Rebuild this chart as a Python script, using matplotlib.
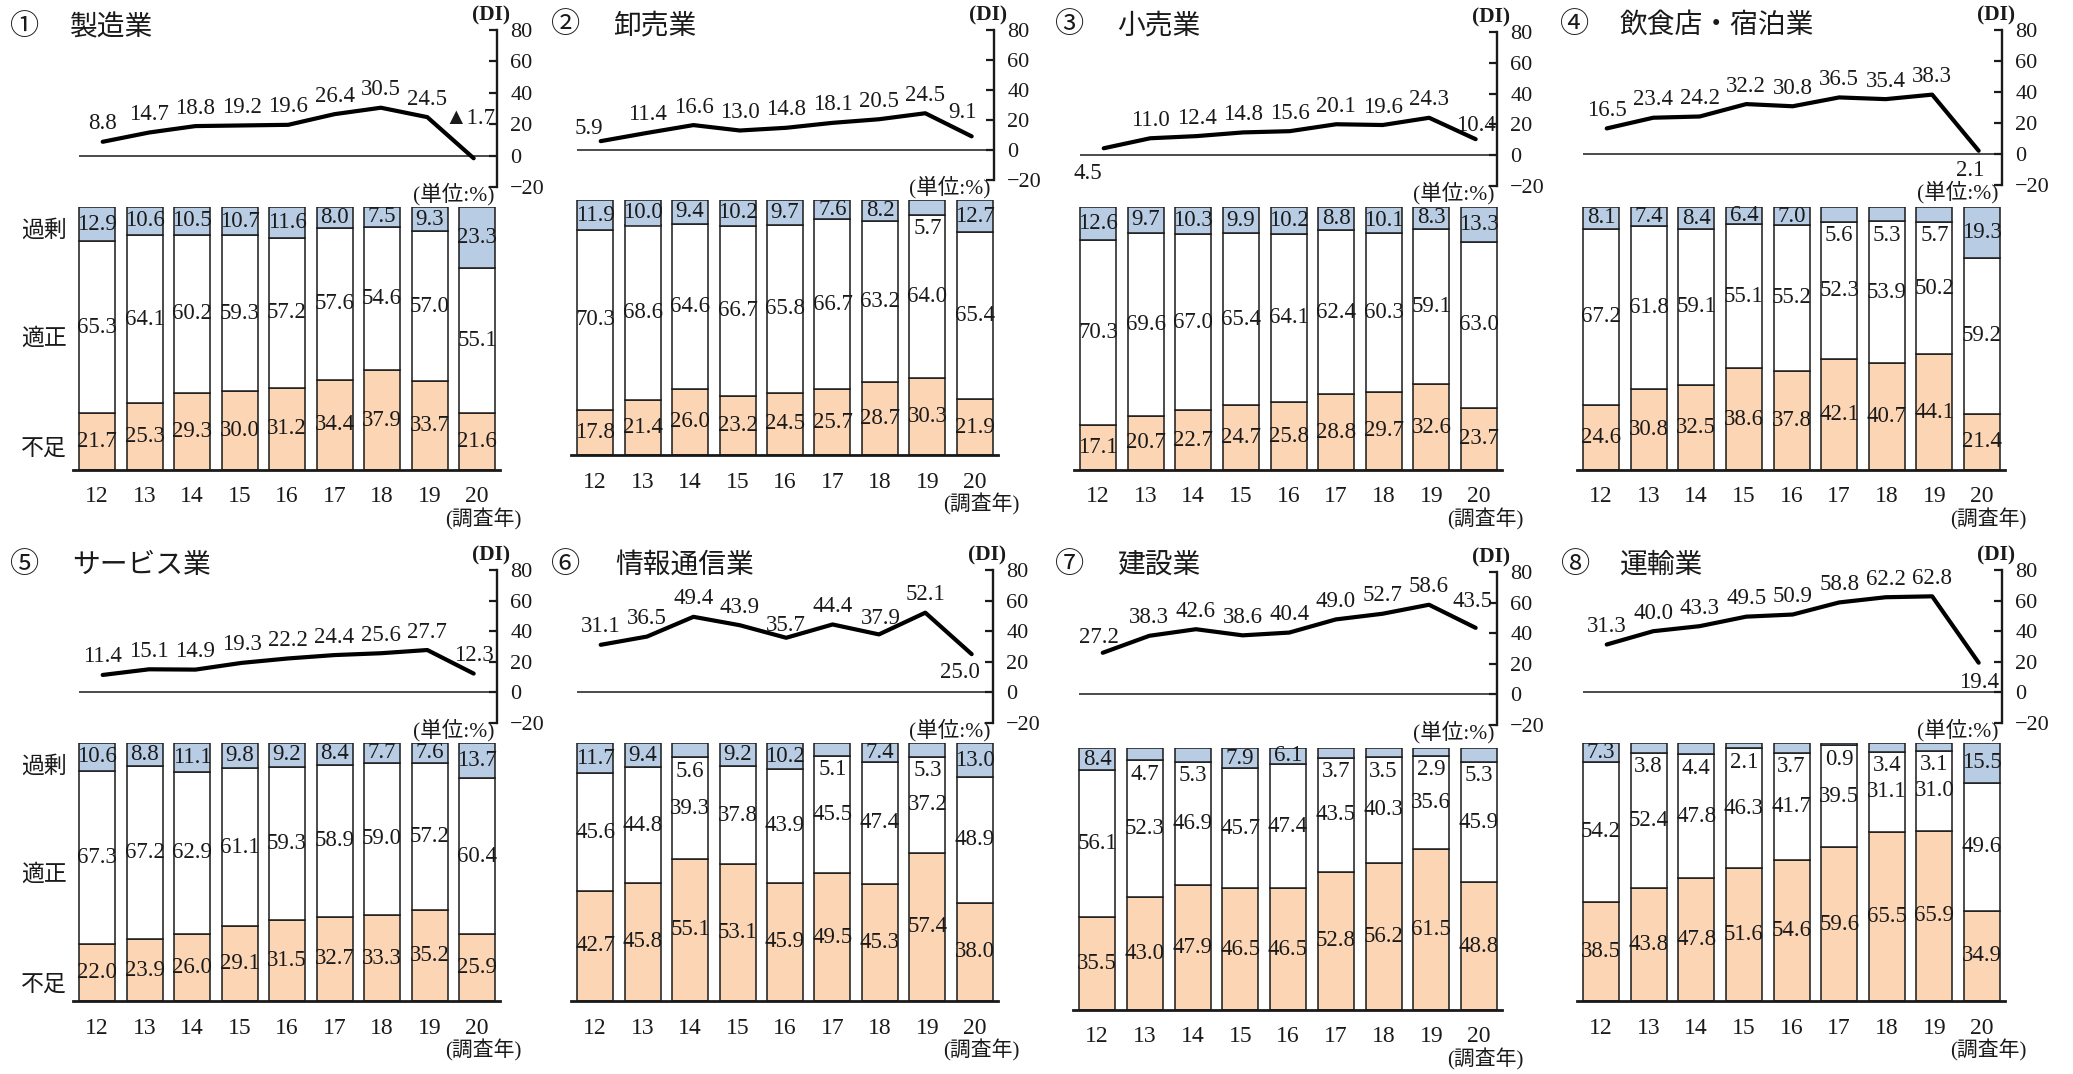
import numpy as np
import matplotlib
matplotlib.use("Agg")
import matplotlib.pyplot as plt

# ---------------- data ----------------
years = ["12", "13", "14", "15", "16", "17", "18", "19", "20"]
industries = ["製造業", "卸売業", "小売業", "飲食店・宿泊業",
              "サービス業", "情報通信業", "建設業", "運輸業"]
marks = ["①", "②", "③", "④", "⑤", "⑥", "⑦", "⑧"]

# 不足 / 適正 / 過剰 (%) and DI (= 不足 - 過剰) for each industry
seizo_short = [21.7, 25.3, 29.3, 30.0, 31.2, 34.4, 37.9, 33.7, 21.6]
seizo_fit = [65.3, 64.1, 60.2, 59.3, 57.2, 57.6, 54.6, 57.0, 55.1]
seizo_excess = [12.9, 10.6, 10.5, 10.7, 11.6, 8.0, 7.5, 9.3, 23.3]
seizo_di = [8.8, 14.7, 18.8, 19.2, 19.6, 26.4, 30.5, 24.5, -1.7]

oroshi_short = [17.8, 21.4, 26.0, 23.2, 24.5, 25.7, 28.7, 30.3, 21.9]
oroshi_fit = [70.3, 68.6, 64.6, 66.7, 65.8, 66.7, 63.2, 64.0, 65.4]
oroshi_excess = [11.9, 10.0, 9.4, 10.2, 9.7, 7.6, 8.2, 5.7, 12.7]
oroshi_di = [5.9, 11.4, 16.6, 13.0, 14.8, 18.1, 20.5, 24.5, 9.1]

kouri_short = [17.1, 20.7, 22.7, 24.7, 25.8, 28.8, 29.7, 32.6, 23.7]
kouri_fit = [70.3, 69.6, 67.0, 65.4, 64.1, 62.4, 60.3, 59.1, 63.0]
kouri_excess = [12.6, 9.7, 10.3, 9.9, 10.2, 8.8, 10.1, 8.3, 13.3]
kouri_di = [4.5, 11.0, 12.4, 14.8, 15.6, 20.1, 19.6, 24.3, 10.4]

inshoku_short = [24.6, 30.8, 32.5, 38.6, 37.8, 42.1, 40.7, 44.1, 21.4]
inshoku_fit = [67.2, 61.8, 59.1, 55.1, 55.2, 52.3, 53.9, 50.2, 59.2]
inshoku_excess = [8.1, 7.4, 8.4, 6.4, 7.0, 5.6, 5.3, 5.7, 19.3]
inshoku_di = [16.5, 23.4, 24.2, 32.2, 30.8, 36.5, 35.4, 38.3, 2.1]

service_short = [22.0, 23.9, 26.0, 29.1, 31.5, 32.7, 33.3, 35.2, 25.9]
service_fit = [67.3, 67.2, 62.9, 61.1, 59.3, 58.9, 59.0, 57.2, 60.4]
service_excess = [10.6, 8.8, 11.1, 9.8, 9.2, 8.4, 7.7, 7.6, 13.7]
service_di = [11.4, 15.1, 14.9, 19.3, 22.2, 24.4, 25.6, 27.7, 12.3]

joho_short = [42.7, 45.8, 55.1, 53.1, 45.9, 49.5, 45.3, 57.4, 38.0]
joho_fit = [45.6, 44.8, 39.3, 37.8, 43.9, 45.5, 47.4, 37.2, 48.9]
joho_excess = [11.7, 9.4, 5.6, 9.2, 10.2, 5.1, 7.4, 5.3, 13.0]
joho_di = [31.1, 36.5, 49.4, 43.9, 35.7, 44.4, 37.9, 52.1, 25.0]

kensetsu_short = [35.5, 43.0, 47.9, 46.5, 46.5, 52.8, 56.2, 61.5, 48.8]
kensetsu_fit = [56.1, 52.3, 46.9, 45.7, 47.4, 43.5, 40.3, 35.6, 45.9]
kensetsu_excess = [8.4, 4.7, 5.3, 7.9, 6.1, 3.7, 3.5, 2.9, 5.3]
kensetsu_di = [27.2, 38.3, 42.6, 38.6, 40.4, 49.0, 52.7, 58.6, 43.5]

unyu_short = [38.5, 43.8, 47.8, 51.6, 54.6, 59.6, 65.5, 65.9, 34.9]
unyu_fit = [54.2, 52.4, 47.8, 46.3, 41.7, 39.5, 31.1, 31.0, 49.6]
unyu_excess = [7.3, 3.8, 4.4, 2.1, 3.7, 0.9, 3.4, 3.1, 15.5]
unyu_di = [31.3, 40.0, 43.3, 49.5, 50.9, 58.8, 62.2, 62.8, 19.4]

shortage = [seizo_short, oroshi_short, kouri_short, inshoku_short,
            service_short, joho_short, kensetsu_short, unyu_short]
fitting = [seizo_fit, oroshi_fit, kouri_fit, inshoku_fit,
           service_fit, joho_fit, kensetsu_fit, unyu_fit]
excess = [seizo_excess, oroshi_excess, kouri_excess, inshoku_excess,
          service_excess, joho_excess, kensetsu_excess, unyu_excess]
di_values = [seizo_di, oroshi_di, kouri_di, inshoku_di,
             service_di, joho_di, kensetsu_di, unyu_di]

# ---------------- layout (pixel boxes, origin top-left) ----------------
W, H = 2073, 1074
PX = 0.72  # points per pixel at dpi 100

# bl/br/bt/bb: bar area; dx: DI axis x; dt/db: DI axis y at 80 / -20
geom = [
    dict(bl=79, br=495, bt=207, bb=470, dx=497, dt=30, db=187, ty=27, cx=10, nx=70),
    dict(bl=577, br=993, bt=200, bb=455, dx=994, dt=30, db=180, ty=25, cx=551, nx=613),
    dict(bl=1080, br=1497, bt=207, bb=470, dx=1497, dt=32, db=186, ty=25, cx=1055, nx=1117),
    dict(bl=1583, br=2000, bt=207, bb=470, dx=2002, dt=30, db=185, ty=25, cx=1560, nx=1620),
    dict(bl=79, br=495, bt=743, bb=1001, dx=497, dt=570, db=723, ty=565, cx=10, nx=72),
    dict(bl=577, br=993, bt=743, bb=1001, dx=993, dt=570, db=723, ty=565, cx=551, nx=615),
    dict(bl=1079, br=1497, bt=748, bb=1010, dx=1497, dt=572, db=725, ty=565, cx=1055, nx=1117),
    dict(bl=1583, br=2000, bt=743, bb=1001, dx=2002, dt=570, db=723, ty=565, cx=1561, nx=1620),
]

# DI label offsets in pixels (dx, dy), default sits above the point
label_shift = {
    (0, 8): (-4, 40),
    (1, 0): (-12, 13), (1, 8): (-9, 24),
    (2, 0): (-16, -25), (2, 8): (0, 14),
    (3, 8): (-8, -20),
    (5, 4): (0, 12), (5, 6): (2, 16), (5, 8): (-12, -18),
    (6, 0): (-4, 15), (6, 8): (-3, 26),
    (7, 8): (0, -20),
}

C_EXCESS = "#b8cce4"
C_SHORT = "#fcd5b4"
INK = "#1a1a1a"
NUM_FONT = ["Liberation Serif", "DejaVu Sans", "Noto Sans CJK JP"]
MIX_FONT = ["Liberation Serif", "Noto Sans CJK JP", "DejaVu Sans"]
JP_FONT = ["Noto Sans CJK JP", "DejaVu Sans"]

fig = plt.figure(figsize=(W / 100, H / 100), dpi=100)


def frect(x0, y0, x1, y1):
    return [x0 / W, 1 - y1 / H, (x1 - x0) / W, (y1 - y0) / H]


def ptext(x, y, s, **kw):
    fig.text(x / W, 1 - y / H, s, **kw)


BAR_W = 36
line_x = np.linspace(0.12, 7.93, len(years))
xs = np.arange(len(years))

for k, g in enumerate(geom):
    s = (g["br"] - g["bl"] - BAR_W) / 8.0
    c0 = g["bl"] + BAR_W / 2.0

    # ---- stacked 100% bars ----
    axb = fig.add_axes(frect(g["bl"] - 6, g["bt"], g["br"] + 5, g["bb"]))
    axb.set_xlim((g["bl"] - 6 - c0) / s, (g["br"] + 5 - c0) / s)
    axb.set_ylim(0, 100)
    axb.axis("off")
    sh = np.array(shortage[k])
    fi = np.array(fitting[k])
    ex = np.array(excess[k])
    bw = BAR_W / s
    kw = dict(width=bw, edgecolor=INK, linewidth=1.1, zorder=2)
    axb.bar(xs, sh, color=C_SHORT, **kw)
    axb.bar(xs, fi, bottom=sh, color="white", **kw)
    axb.bar(xs, ex, bottom=sh + fi, color=C_EXCESS, **kw)
    axb.axhline(0, color=INK, linewidth=2.0, zorder=3, clip_on=False)

    tkw = dict(ha="center", va="center", fontsize=16.5, family=NUM_FONT, color=INK, zorder=4)
    for i in xs:
        axb.text(i, sh[i] / 2, f"{sh[i]:.1f}", **tkw)
        axb.text(i, sh[i] + fi[i] / 2, f"{fi[i]:.1f}", **tkw)
        top_base = sh[i] + fi[i]
        if ex[i] >= 6:
            axb.text(i, top_base + ex[i] / 2, f"{ex[i]:.1f}", **tkw)
        else:
            axb.annotate(f"{ex[i]:.1f}", (i, top_base), xytext=(0, -14 * PX),
                         textcoords="offset points", **tkw)
        axb.annotate(years[i], (i, 0), xytext=(0, -27 * PX), textcoords="offset points",
                     ha="center", va="center", fontsize=17, family=NUM_FONT,
                     color=INK, annotation_clip=False)
    axb.annotate("(調査年)", (8 + 6 / s, 0), xytext=(0, -49 * PX), textcoords="offset points",
                 ha="center", va="center", fontsize=15, family=MIX_FONT, color=INK,
                 annotation_clip=False)

    # ---- DI line ----
    axl = fig.add_axes(frect(g["bl"], g["dt"], g["dx"], g["db"]))
    axl.set_xlim((g["bl"] - c0) / s, (g["dx"] - c0) / s)
    axl.set_ylim(-20, 80)
    axl.patch.set_alpha(0)
    for side in ("left", "top", "bottom"):
        axl.spines[side].set_visible(False)
    axl.spines["right"].set_linewidth(1.7)
    axl.spines["right"].set_color(INK)
    axl.set_xticks([])
    axl.yaxis.tick_right()
    axl.set_yticks([-20, 0, 20, 40, 60, 80])
    axl.set_yticklabels(["−20", "0", "20", "40", "60", "80"])
    axl.tick_params(axis="y", direction="in", length=6, width=1.6, pad=9.5,
                    labelsize=16, colors=INK)
    for lab in axl.get_yticklabels():
        lab.set_family(NUM_FONT)
    axl.axhline(0, color=INK, linewidth=1.1, zorder=1)
    di = np.array(di_values[k])
    axl.plot(line_x, di, color="black", linewidth=3.0, solid_joinstyle="round",
             solid_capstyle="round", zorder=3, clip_on=False)
    for i, v in enumerate(di):
        ddx, ddy = label_shift.get((k, i), (0, 18))
        txt = f"{v:.1f}" if v >= 0 else f"▲{abs(v):.1f}"
        axl.annotate(txt, (line_x[i], v), xytext=(ddx * PX, ddy * PX),
                     textcoords="offset points", ha="center", va="center",
                     fontsize=16.5, family=NUM_FONT, color=INK, annotation_clip=False)

    ptext(g["dx"] - 6, g["dt"] - 15, "(DI)", ha="center", va="center",
          fontsize=15.5, family=NUM_FONT, weight="bold", color=INK)
    ptext(g["dx"] - 3, g["db"] + 7, "(単位:%)", ha="right", va="center",
          fontsize=15.5, family=MIX_FONT, color=INK)

    # ---- panel title ----
    ptext(g["cx"], g["ty"], marks[k], ha="left", va="center", fontsize=21,
          family=JP_FONT, color=INK)
    ptext(g["nx"], g["ty"], industries[k], ha="left", va="center", fontsize=20,
          family=JP_FONT, color=INK)

    # ---- category labels on the left column ----
    if k in (0, 4):
        for lbl, off in (("過剰", 23), ("適正", 131), ("不足", 241)):
            ptext(44, g["bt"] + off, lbl, ha="center", va="center", fontsize=16.5,
                  family=JP_FONT, color=INK)

fig.savefig("out.png", dpi=100, facecolor="white")
